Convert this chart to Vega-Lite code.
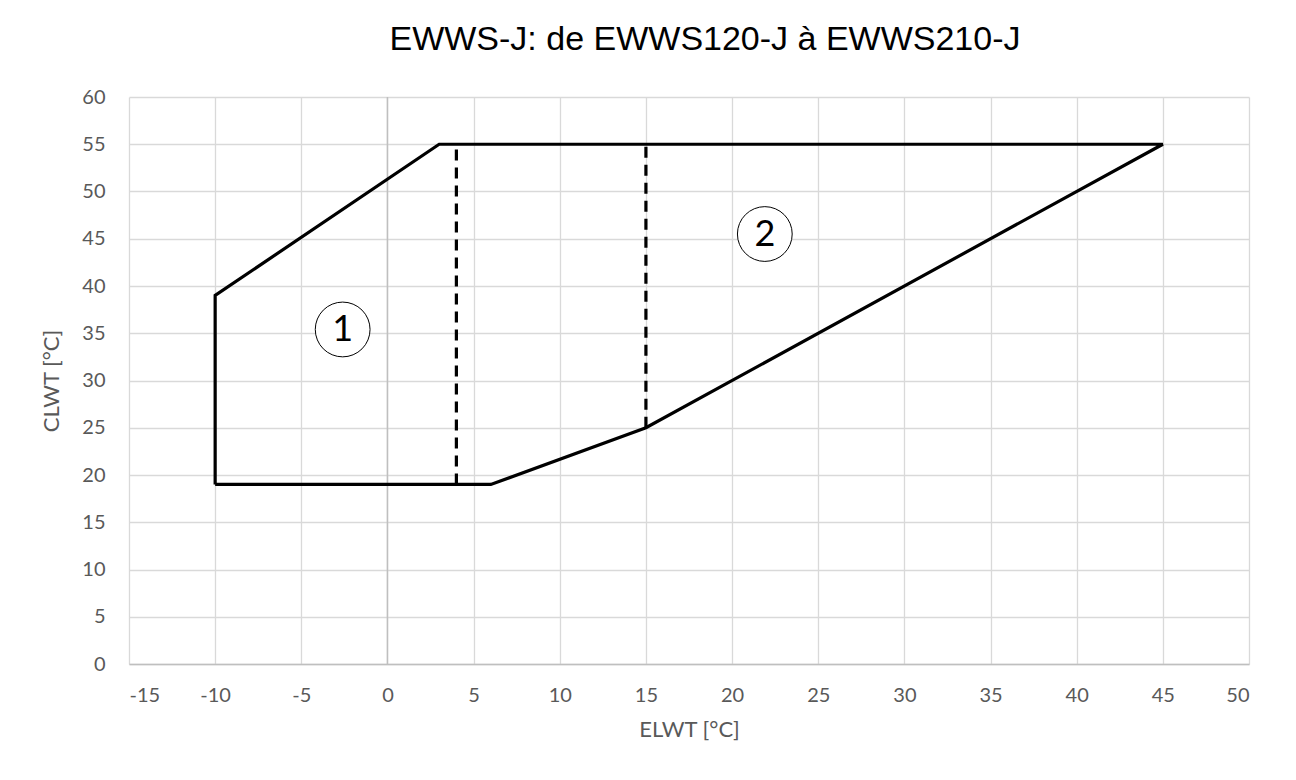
{
  "$schema": "https://vega.github.io/schema/vega-lite/v6.json",
  "width": 1120,
  "height": 567,
  "autosize": "none",
  "padding": {"left": 129, "top": 97, "right": 47, "bottom": 116},
  "background": "white",
  "title": {
    "text": "EWWS-J: de EWWS120-J à EWWS210-J",
    "font": "Liberation Sans",
    "fontSize": 34,
    "fontWeight": "normal",
    "color": "#000000",
    "anchor": "middle",
    "dx": 16,
    "offset": 30
  },
  "config": {
    "view": {"stroke": null},
    "axis": {
      "labelFont": "Lato",
      "labelFontSize": 20,
      "labelColor": "#595959",
      "titleFont": "Lato",
      "titleFontSize": 22,
      "titleFontWeight": "normal",
      "titleColor": "#595959",
      "gridColor": "#d9d9d9",
      "gridWidth": 1.3,
      "ticks": false,
      "labelExpr": "'' + datum.value"
    }
  },
  "datasets": {
    "outline": [
      {"o": 1, "x": -10, "y": 19},
      {"o": 2, "x": -10, "y": 39},
      {"o": 3, "x": 3, "y": 55},
      {"o": 4, "x": 45, "y": 55},
      {"o": 5, "x": 15, "y": 25},
      {"o": 6, "x": 6, "y": 19},
      {"o": 7, "x": -10, "y": 19}
    ],
    "dashed": [
      {"id": "a", "x": 4, "y": 19},
      {"id": "a", "x": 4, "y": 55},
      {"id": "b", "x": 15, "y": 25},
      {"id": "b", "x": 15, "y": 55}
    ],
    "zones": [
      {"x": -2.6, "y": 35.4, "label": "1"},
      {"x": 21.9, "y": 45.5, "label": "2"}
    ],
    "zero": [{"x": 0, "y0": 0, "y1": 60}]
  },
  "layer": [
    {
      "data": {"name": "zero"},
      "mark": {"type": "rule", "color": "#bfbfbf", "strokeWidth": 1.5},
      "encoding": {
        "x": {
          "field": "x", "type": "quantitative",
          "scale": {"domain": [-15, 50], "nice": false, "zero": false},
          "axis": {
            "title": "ELWT [°C]",
            "values": [-15,-10,-5,0,5,10,15,20,25,30,35,40,45,50],
            "labelPadding": 21,
            "titlePadding": 14,
            "domainColor": "#bfbfbf",
            "domainWidth": 1.5
          }
        },
        "y": {
          "field": "y0", "type": "quantitative",
          "scale": {"domain": [0, 60], "nice": false},
          "axis": {
            "title": "CLWT [°C]",
            "values": [0,5,10,15,20,25,30,35,40,45,50,55,60],
            "labelPadding": 24,
            "titlePadding": 18,
            "domain": false
          }
        },
        "y2": {"field": "y1"}
      }
    },
    {
      "data": {"name": "outline"},
      "mark": {"type": "line", "color": "#000000", "strokeWidth": 3.2, "strokeJoin": "miter"},
      "encoding": {
        "x": {"field": "x", "type": "quantitative"},
        "y": {"field": "y", "type": "quantitative"},
        "order": {"field": "o", "type": "quantitative"}
      }
    },
    {
      "data": {"name": "dashed"},
      "mark": {"type": "line", "color": "#000000", "strokeWidth": 3.2, "strokeDash": [11, 7]},
      "encoding": {
        "x": {"field": "x", "type": "quantitative"},
        "y": {"field": "y", "type": "quantitative"},
        "detail": {"field": "id"}
      }
    },
    {
      "data": {"name": "zones"},
      "mark": {"type": "point", "shape": "circle", "filled": false, "stroke": "#000000", "strokeWidth": 1, "size": 3000, "fill": "white", "fillOpacity": 1},
      "encoding": {
        "x": {"field": "x", "type": "quantitative"},
        "y": {"field": "y", "type": "quantitative"}
      }
    },
    {
      "data": {"name": "zones"},
      "mark": {"type": "text", "font": "Lato", "fontSize": 36, "color": "#000000", "baseline": "middle", "align": "center", "dy": 1},
      "encoding": {
        "x": {"field": "x", "type": "quantitative"},
        "y": {"field": "y", "type": "quantitative"},
        "text": {"field": "label"}
      }
    }
  ]
}
